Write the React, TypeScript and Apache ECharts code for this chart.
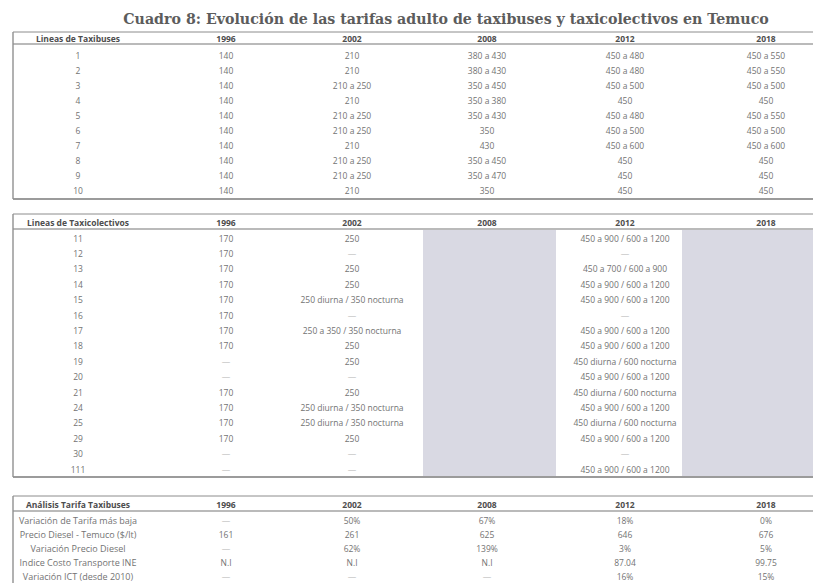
import React, { useEffect, useRef } from "react";
import * as echarts from "echarts";

const TITLE = "Cuadro 8: Evolución de las tarifas adulto de taxibuses y taxicolectivos en Temuco";
const YEARS = ["1996", "2002", "2008", "2012", "2018"];

const BUS_HEADER = "Lineas de Taxibuses";
const BUS_LINES = ["1", "2", "3", "4", "5", "6", "7", "8", "9", "10"];
const BUS_1996 = ["140", "140", "140", "140", "140", "140", "140", "140", "140", "140"];
const BUS_2002 = ["210", "210", "210 a 250", "210", "210 a 250", "210 a 250", "210", "210 a 250", "210 a 250", "210"];
const BUS_2008 = ["380 a 430", "380 a 430", "350 a 450", "350 a 380", "350 a 430", "350", "430", "350 a 450", "350 a 470", "350"];
const BUS_2012 = ["450 a 480", "450 a 480", "450 a 500", "450", "450 a 480", "450 a 500", "450 a 600", "450", "450", "450"];
const BUS_2018 = ["450 a 550", "450 a 550", "450 a 500", "450", "450 a 550", "450 a 500", "450 a 600", "450", "450", "450"];

const COL_HEADER = "Lineas de Taxicolectivos";
const COL_LINES = ["11", "12", "13", "14", "15", "16", "17", "18", "19", "20", "21", "24", "25", "29", "30", "111"];
const COL_1996 = ["170", "170", "170", "170", "170", "170", "170", "170", "—", "—", "170", "170", "170", "170", "—", "—"];
const COL_2002 = ["250", "—", "250", "250", "250 diurna / 350 nocturna", "—", "250 a 350 / 350 nocturna", "250", "250", "—", "250", "250 diurna / 350 nocturna", "250 diurna / 350 nocturna", "250", "—", "—"];
const COL_2008 = ["", "", "", "", "", "", "", "", "", "", "", "", "", "", "", ""];
const COL_2012 = ["450 a 900 / 600 a 1200", "—", "450 a 700 / 600 a 900", "450 a 900 / 600 a 1200", "450 a 900 / 600 a 1200", "—", "450 a 900 / 600 a 1200", "450 a 900 / 600 a 1200", "450 diurna / 600 nocturna", "450 a 900 / 600 a 1200", "450 diurna / 600 nocturna", "450 a 900 / 600 a 1200", "450 diurna / 600 nocturna", "450 a 900 / 600 a 1200", "—", "450 a 900 / 600 a 1200"];
const COL_2018 = ["", "", "", "", "", "", "", "", "", "", "", "", "", "", "", ""];

const AN_HEADER = "Análisis Tarifa Taxibuses";
const AN_LABELS = ["Variación de Tarifa más baja", "Precio Diesel - Temuco ($/lt)", "Variación Precio Diesel", "Indice Costo Transporte INE", "Variación ICT (desde 2010)"];
const AN_1996 = ["—", "161", "—", "N.I", "—"];
const AN_2002 = ["50%", "261", "62%", "N.I", "—"];
const AN_2008 = ["67%", "625", "139%", "N.I", "—"];
const AN_2012 = ["18%", "646", "3%", "87.04", "16%"];
const AN_2018 = ["0%", "676", "5%", "99.75", "15%"];

const COL_X = [78, 226, 352, 487, 625, 766];
const LEFT = 13;
const RIGHT = 813;
const FONT = "'Open Sans', 'Noto Sans', sans-serif";
const TXT = "#737373";
const HDR = "#4d4d4d";
const BORDER = "#8c8c8c";

type Table = {
  header: string;
  labels: string[];
  cols: string[][];
  top: number;
  headerY: number;
  lineY: number;
  row0: number;
  step: number;
  bottom: number | null;
  bottomEnd: number;
};

function buildTable(t: Table): any[] {
  const els: any[] = [];
  const line = (x1: number, y1: number, x2: number, y2: number, w = 1, c = BORDER) =>
    els.push({ type: "line", silent: true, shape: { x1, y1, x2, y2 }, style: { stroke: c, lineWidth: w } });
  line(LEFT, t.top, RIGHT, t.top, 1);
  line(LEFT, t.lineY, RIGHT, t.lineY, 1.2, "#777");
  if (t.bottom !== null) line(LEFT, t.bottom, RIGHT, t.bottom, 1.3, "#7a7a7a");
  line(LEFT, t.top, LEFT, t.bottomEnd, 1.4, "#909090");
  const hdrs = [t.header, ...YEARS];
  hdrs.forEach((h, i) => {
    els.push({
      type: "text", silent: true, x: COL_X[i], y: t.headerY,
      style: { text: h, font: `bold 8.5px ${FONT}`, fill: HDR, align: "center", verticalAlign: "middle" },
    });
  });
  t.labels.forEach((lab, r) => {
    const y = t.row0 + r * t.step;
    const cells = [lab, ...t.cols.map((c) => c[r])];
    cells.forEach((v, i) => {
      if (!v) return;
      const dash = v === "—";
      els.push({
        type: "text", silent: true, x: COL_X[i], y,
        style: {
          text: v, font: `${i === 0 && lab.length > 4 ? 9 : 8.5}px ${FONT}`,
          fill: dash ? "#c4c4c4" : TXT, align: "center", verticalAlign: "middle",
        },
      });
    });
  });
  return els;
}

export default function App() {
  const ref = useRef<HTMLDivElement>(null);
  useEffect(() => {
    if (!ref.current) return;
    const chart = echarts.init(ref.current, null, { renderer: "svg" });
    const t1: Table = {
      header: BUS_HEADER, labels: BUS_LINES,
      cols: [BUS_1996, BUS_2002, BUS_2008, BUS_2012, BUS_2018],
      top: 32, headerY: 38, lineY: 44, row0: 55, step: 15, bottom: 199, bottomEnd: 199,
    };
    const t2: Table = {
      header: COL_HEADER, labels: COL_LINES,
      cols: [COL_1996, COL_2002, COL_2008, COL_2012, COL_2018],
      top: 214, headerY: 222, lineY: 229, row0: 238, step: 15.4, bottom: 477, bottomEnd: 477,
    };
    const t3: Table = {
      header: AN_HEADER, labels: AN_LABELS,
      cols: [AN_1996, AN_2002, AN_2008, AN_2012, AN_2018],
      top: 496, headerY: 504, lineY: 511, row0: 520, step: 14, bottom: null, bottomEnd: 583,
    };
    const blocks = [
      { type: "rect", silent: true, shape: { x: 423, y: 230, width: 133, height: 246 }, style: { fill: "#d9d9e3" } },
      { type: "rect", silent: true, shape: { x: 682, y: 230, width: 131, height: 246 }, style: { fill: "#d9d9e3" } },
    ];
    chart.setOption({
      animation: false,
      backgroundColor: "#ffffff",
      graphic: [
        ...blocks,
        {
          type: "text", silent: true, x: 446, y: 19,
          style: { text: TITLE, font: "bold 14.2px 'DejaVu Serif', serif", fill: "#5c5c5c", align: "center", verticalAlign: "middle" },
        },
        ...buildTable(t1),
        ...buildTable(t2),
        ...buildTable(t3),
      ],
    });
    return () => chart.dispose();
  }, []);
  return <div ref={ref} style={{ position: "absolute", left: 0, top: 0, width: 813, height: 583 }} />;
}
